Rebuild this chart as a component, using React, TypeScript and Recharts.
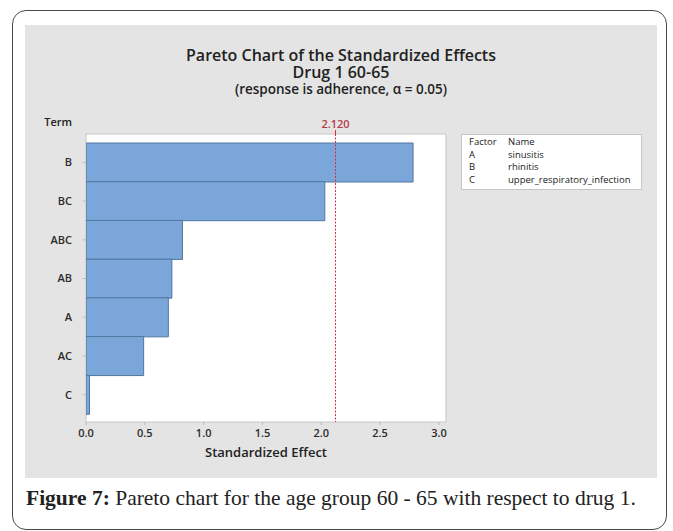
import React from 'react';
import { BarChart, Bar, XAxis, YAxis, CartesianGrid, ReferenceLine } from 'recharts';

// Pareto of standardized effects, sorted largest first
const terms = ['B', 'BC', 'ABC', 'AB', 'A', 'AC', 'C'];
const effects = [2.78, 2.03, 0.82, 0.73, 0.7, 0.49, 0.03];
const xTicks = [0, 0.5, 1, 1.5, 2, 2.5, 3];
const criticalValue = 2.12;

// factor key shown at the right
const factorCodes = ['A', 'B', 'C'];
const factorNames = ['sinusitis', 'rhinitis', 'upper_respiratory_infection'];

const data = terms.map((term, i) => ({ term, effect: effects[i] }));

const chartFont = '"Open Sans", "Noto Sans", sans-serif';
const tickStyle = { fill: '#2b2b2b', fontSize: 11, fontWeight: 600 };
const criticalColor = '#e3283f';

// red dashed critical line with its value printed above the frame
const CriticalMark = (props: any) => {
  const { viewBox } = props;
  if (!viewBox) return null;
  const x = Math.round(viewBox.x) + 0.5;
  const top = viewBox.y;
  const bottom = viewBox.y + viewBox.height;
  return (
    <g>
      <line x1={x} x2={x} y1={top - 4} y2={top + 2} stroke={criticalColor} strokeWidth={1} />
      <line x1={x} x2={x} y1={top} y2={bottom} stroke={criticalColor} strokeWidth={1} strokeDasharray="2 1.5" />
      <text x={x} y={top - 6} textAnchor="middle" fill="#b83a4b" fontSize={11} fontWeight={600}>
        {criticalValue.toFixed(3)}
      </text>
    </g>
  );
};

const App: React.FC = () => {
  return (
    <div style={{ position: 'absolute', left: 0, top: 0, width: 673, height: 531, background: '#fff' }}>
      <div
        style={{
          position: 'absolute',
          left: 12,
          top: 10,
          width: 653,
          height: 518,
          border: '1.5px solid #4a4a4a',
          borderRadius: 14,
        }}
      />
      <div
        style={{
          position: 'absolute',
          left: 25,
          top: 25,
          width: 632,
          height: 453,
          background: '#e4e4e4',
          fontFamily: chartFont,
          color: '#222',
        }}
      >
        <div style={{ position: 'absolute', left: 0, width: 632, top: 22, textAlign: 'center' }}>
          <div style={{ fontSize: 16, fontWeight: 600, lineHeight: '17px' }}>Pareto Chart of the Standardized Effects</div>
          <div style={{ fontSize: 16, fontWeight: 600, lineHeight: '17px' }}>Drug 1 60-65</div>
          <div style={{ fontSize: 13.5, fontWeight: 600, lineHeight: '17px' }}>(response is adherence, α = 0.05)</div>
        </div>
        <div
          style={{
            position: 'absolute',
            left: 0,
            width: 47,
            top: 89,
            textAlign: 'right',
            fontSize: 11,
            fontWeight: 600,
          }}
        >
          Term
        </div>

        <BarChart
          width={632}
          height={453}
          data={data}
          layout="vertical"
          barCategoryGap={0}
          margin={{ top: 109, right: 211, bottom: 0, left: 21 }}
          style={{ fontFamily: chartFont }}
        >
          <CartesianGrid
            fill="#ffffff"
            stroke="#c6c6c6"
            horizontalCoordinatesGenerator={({ offset }: any) => [offset.top, offset.top + offset.height]}
            verticalCoordinatesGenerator={({ offset }: any) => [offset.left, offset.left + offset.width]}
          />
          <XAxis
            type="number"
            domain={[0, 3.06]}
            ticks={xTicks}
            allowDataOverflow
            tickFormatter={(v: number) => v.toFixed(1)}
            tick={tickStyle}
            tickSize={3}
            tickMargin={4}
            axisLine={false}
            tickLine={{ stroke: '#b8b8b8' }}
            height={56}
            label={{
              value: 'Standardized Effect',
              position: 'insideBottom',
              offset: 21,
              fill: '#222',
              fontSize: 13,
              fontWeight: 600,
            }}
          />
          <YAxis
            type="category"
            dataKey="term"
            width={40}
            padding={{ top: 9, bottom: 8 }}
            tick={tickStyle}
            tickSize={3}
            tickMargin={11}
            axisLine={false}
            tickLine={{ stroke: '#b8b8b8' }}
          />
          <Bar dataKey="effect" fill="#7aa6da" stroke="#52769f" strokeWidth={1} isAnimationActive={false} />
          <ReferenceLine x={criticalValue} stroke="none" label={<CriticalMark />} />
        </BarChart>

        <div
          style={{
            position: 'absolute',
            left: 436,
            top: 109,
            width: 181,
            height: 56,
            background: '#fff',
            border: '1px solid #c6c6c6',
            fontSize: 9.5,
            lineHeight: '12.7px',
            paddingTop: 1,
            boxSizing: 'border-box',
          }}
        >
          <div style={{ display: 'flex' }}>
            <span style={{ width: 39, paddingLeft: 7 }}>Factor</span>
            <span>Name</span>
          </div>
          {factorCodes.map((code, i) => (
            <div key={code} style={{ display: 'flex' }}>
              <span style={{ width: 39, paddingLeft: 7 }}>{code}</span>
              <span>{factorNames[i]}</span>
            </div>
          ))}
        </div>
      </div>

      <div
        style={{
          position: 'absolute',
          left: 26,
          top: 486,
          fontFamily: '"Liberation Serif", "DejaVu Serif", serif',
          fontSize: 21.5,
          color: '#222',
          whiteSpace: 'nowrap',
        }}
      >
        <b>Figure 7:</b> Pareto chart for the age group 60 - 65 with respect to drug 1.
      </div>
    </div>
  );
};

export default App;
